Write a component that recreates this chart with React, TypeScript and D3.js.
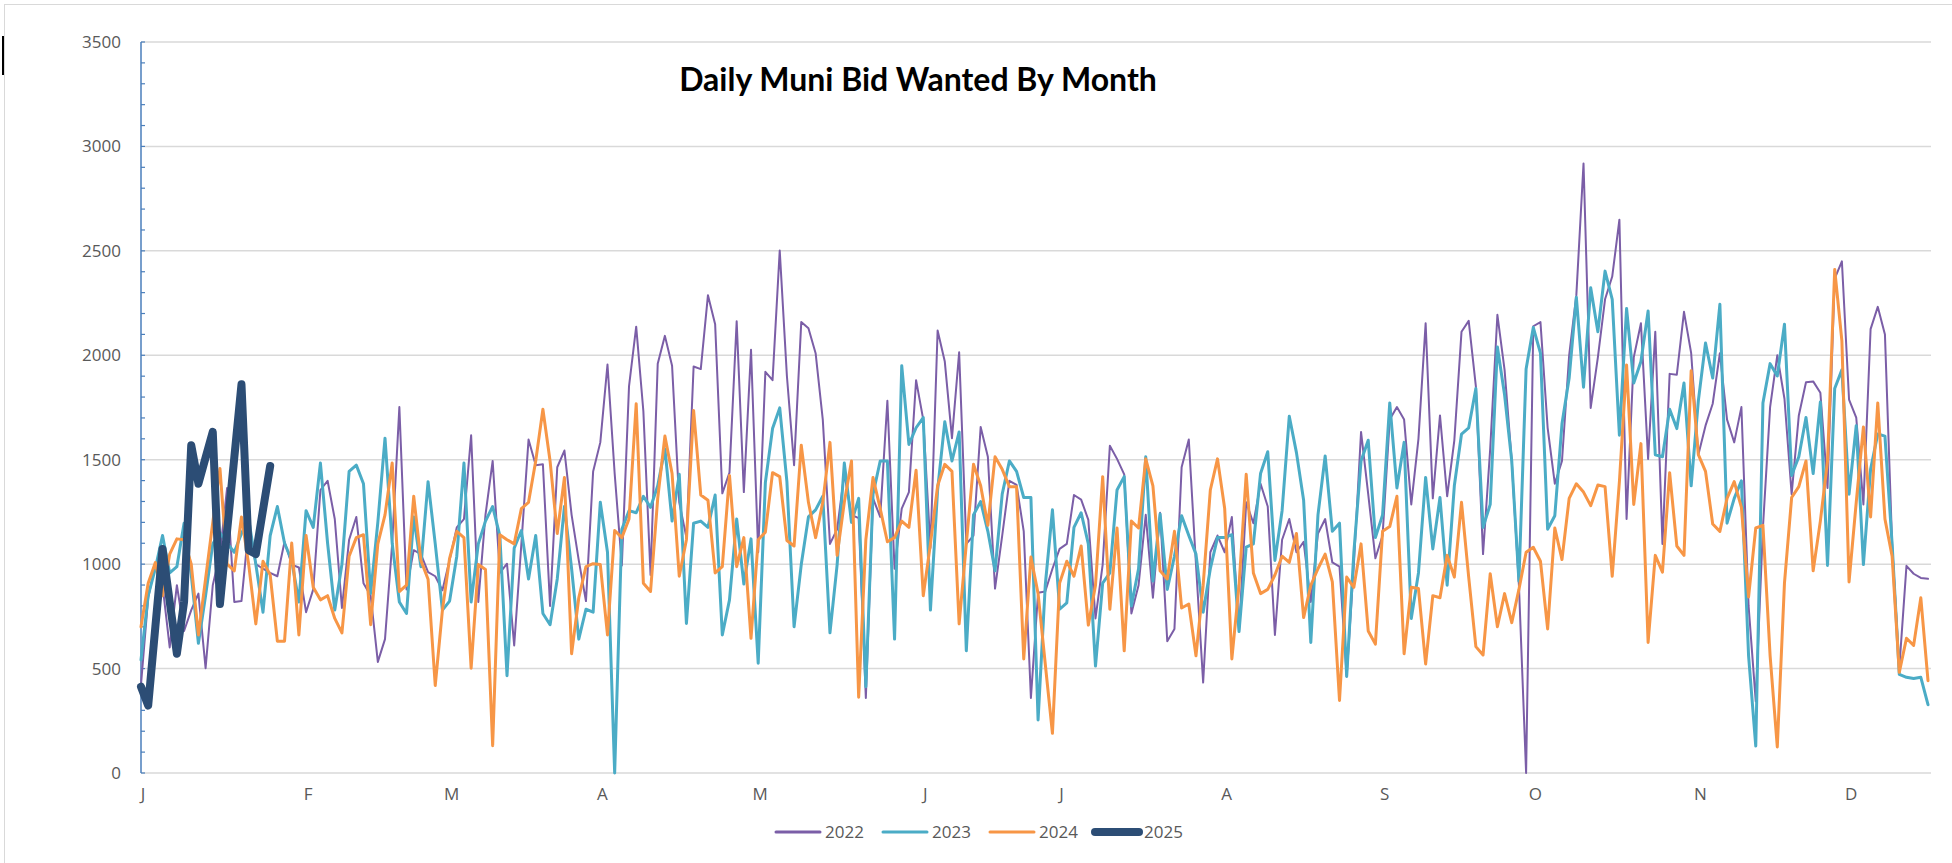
import React from 'react';
import * as d3 from 'd3';

// daily bid wanted counts, one value per trading day
const y2022 = [
  423, 839, 1000, 900, 601, 899, 680, 780, 859, 502,
  899, 1050, 1365, 819, 823, 1176, 1000, 978, 958, 942,
  1107, 998, 984, 770, 879, 1355, 1399, 1216, 790, 1117,
  1226, 909, 849, 532, 641, 1100, 1752, 879, 1067, 1048,
  962, 942, 875, 1020, 1176, 1216, 1617, 819, 1236, 1494,
  958, 1002, 611, 1097, 1597, 1474, 1478, 800, 1464, 1544,
  1236, 1018, 823, 1444, 1583, 1956, 1434, 994, 1851, 2137,
  1732, 948, 1960, 2093, 1950, 1296, 1127, 1946, 1934, 2288,
  2149, 1339, 1438, 2163, 1345, 2026, 1057, 1921, 1881, 2502,
  1901, 1474, 2159, 2129, 2010, 1692, 1097, 1167, 1434, 1236,
  1220, 359, 1315, 1226, 1782, 978, 1266, 1345, 1881, 1692,
  1077, 2119, 1970, 1603, 2014, 1097, 1137, 1657, 1514, 883,
  1137, 1399, 1379, 1157, 359, 863, 869, 978, 1073, 1097,
  1331, 1309, 1212, 740, 998, 1567, 1504, 1430, 764, 899,
  1236, 839, 1246, 631, 690, 1464, 1597, 998, 433, 1057,
  1137, 1057, 1226, 680, 1296, 1196, 1385, 1276, 661, 1117,
  1216, 1057, 1107, 819, 1147, 1216, 1008, 988, 462, 998,
  1633, 1335, 1028, 1137, 1692, 1752, 1692, 1286, 1600, 2153,
  1315, 1712, 1325, 1593, 2113, 2165, 1851, 1048, 1553, 2194,
  1930, 1494, 899, 0, 2139, 2159, 1653, 1385, 1494, 2000,
  2288, 2918, 1748, 1990, 2268, 2377, 2649, 1216, 1990, 2153,
  1504, 2113, 1097, 1911, 1907, 2208, 2010, 1524, 1663, 1768,
  2010, 1692, 1583, 1752, 800, 343, 1176, 1752, 2000, 1792,
  1335, 1712, 1871, 1875, 1821, 1365, 2367, 2450, 1788, 1702,
  1286, 2125, 2232, 2099, 1097, 502, 992, 954, 934, 930,
];

const y2023 = [
  542, 849, 980, 1137, 958, 988, 1196, 950, 621, 850,
  1097, 1150, 1100, 1057, 1147, 1216, 1000, 770, 1137, 1276,
  1100, 1018, 819, 1256, 1176, 1484, 1100, 780, 1000, 1444,
  1474, 1385, 859, 1200, 1603, 1100, 819, 764, 1226, 988,
  1395, 1097, 780, 823, 1038, 1484, 819, 1097, 1206, 1276,
  1137, 466, 1077, 1161, 929, 1137, 764, 710, 929, 1276,
  978, 641, 784, 770, 1296, 1057, 0, 1167, 1256, 1246,
  1325, 1272, 1375, 1553, 1206, 1430, 716, 1196, 1206, 1176,
  1331, 661, 829, 1216, 905, 1121, 526, 1391, 1649, 1748,
  1395, 700, 998, 1226, 1260, 1325, 671, 998, 1484, 1200,
  1315, 413, 1335, 1494, 1494, 641, 1950, 1573, 1653, 1702,
  780, 1355, 1682, 1494, 1633, 585, 1236, 1300, 1157, 968,
  1335, 1494, 1444, 1319, 1319, 254, 899, 1260, 784, 815,
  1176, 1246, 1097, 512, 909, 958, 1355, 1419, 800, 978,
  1514, 919, 1240, 879, 1038, 1232, 1137, 1048, 770, 978,
  1127, 1127, 1141, 677, 1081, 1097, 1434, 1538, 1018, 1256,
  1708, 1534, 1306, 625, 1236, 1518, 1157, 1196, 462, 1057,
  1494, 1593, 1127, 1236, 1772, 1365, 1583, 740, 958, 1415,
  1073, 1319, 899, 1375, 1623, 1653, 1841, 1176, 1286, 2040,
  1811, 1494, 919, 1934, 2133, 2010, 1167, 1232, 1672, 1891,
  2278, 1847, 2323, 2113, 2403, 2268, 1617, 2224, 1867, 1970,
  2212, 1524, 1514, 1742, 1649, 1867, 1375, 1782, 2059, 1891,
  2244, 1196, 1315, 1399, 561, 129, 1772, 1960, 1901, 2149,
  1425, 1514, 1702, 1434, 1776, 994, 1841, 1930, 1335, 1663,
  998, 1454, 1623, 1613, 1097, 472, 458, 452, 458, 327,
];

const y2024 = [
  700, 909, 1008, 849, 1048, 1121, 1117, 1000, 661, 930,
  1200, 1458, 1000, 968, 1226, 1000, 714, 1014, 948, 631,
  631, 1101, 661, 1137, 889, 829, 849, 740, 671, 1038,
  1127, 1141, 710, 1097, 1236, 1484, 869, 899, 1325, 1018,
  928, 419, 780, 1028, 1157, 1127, 502, 998, 974, 131,
  1141, 1117, 1097, 1266, 1296, 1494, 1742, 1494, 1147, 1415,
  571, 839, 988, 1002, 998, 661, 1161, 1127, 1216, 1768,
  909, 869, 1315, 1613, 1434, 942, 1117, 1736, 1331, 1306,
  958, 988, 1425, 988, 1127, 645, 1117, 1153, 1438, 1419,
  1113, 1087, 1569, 1296, 1127, 1296, 1583, 1042, 1296, 1494,
  363, 1117, 1415, 1266, 1107, 1127, 1206, 1176, 1450, 849,
  1097, 1375, 1478, 1444, 714, 1097, 1478, 1375, 1186, 1514,
  1454, 1371, 1371, 546, 1034, 859, 522, 190, 909, 1014,
  942, 1087, 708, 899, 1419, 784, 1173, 585, 1206, 1173,
  1504, 1375, 968, 929, 1157, 790, 809, 561, 899, 1355,
  1504, 1266, 546, 899, 1430, 958, 859, 879, 948, 1038,
  1008, 1147, 744, 899, 978, 1048, 915, 347, 938, 889,
  1097, 680, 617, 1157, 1180, 1325, 571, 889, 883, 522,
  849, 839, 1042, 938, 1296, 938, 605, 565, 954, 700,
  859, 720, 879, 1057, 1081, 1014, 690, 1173, 1022, 1315,
  1385, 1345, 1280, 1379, 1371, 942, 1395, 1954, 1286, 1577,
  625, 1042, 962, 1438, 1087, 1042, 1926, 1524, 1444, 1192,
  1157, 1315, 1395, 1272, 843, 1173, 1186, 561, 125, 909,
  1319, 1371, 1494, 968, 1206, 1494, 2411, 2069, 915, 1296,
  1657, 1226, 1772, 1216, 1038, 482, 645, 611, 839, 442,
];

// 2025 is year to date, January only
const y2025 = [413, 323, 700, 1073, 820, 571, 819, 1569, 1385, 1510, 1633, 809, 1160, 1510, 1861, 1067, 1048, 1260, 1470];

const monthLabels = ['J', 'F', 'M', 'A', 'M', 'J', 'J', 'A', 'S', 'O', 'N', 'D'];
const monthStartDay = [0, 23, 43, 64, 86, 109, 128, 151, 173, 194, 217, 238];

const seriesNames = ['2022', '2023', '2024', '2025'];
const seriesColors = ['#7b5ea7', '#4bacc6', '#f79646', '#2c4d75'];
const seriesWidths = [2, 3, 3, 8];

const App = () => {
  const width = 1952;
  const height = 863;
  const plot = { left: 141, right: 1928, top: 42, bottom: 773 };
  const gridRight = 1931;

  const x = d3.scaleLinear().domain([0, 249]).range([plot.left, plot.right]);
  const y = d3.scaleLinear().domain([0, 3500]).range([plot.bottom, plot.top]);

  const line = d3.line<number>()
    .x((d, i) => x(i))
    .y(d => y(d));

  const allSeries = [y2022, y2023, y2024, y2025];
  const majorTicks = y.ticks(7);
  const minorTicks = d3.range(0, 3501, 100);

  const axisFont = "'Open Sans', 'Liberation Sans', sans-serif";

  // legend layout (line start x for each entry)
  const legendX = [776, 883, 990, 1095];
  const legendY = 832;

  return (
    <svg width={width} height={height} style={{ position: 'absolute', left: 0, top: 0, display: 'block', background: '#fff' }}>
      <rect x={4.5} y={4.5} width={width} height={height} fill="#fff" stroke="#d9d9d9" strokeWidth={1} />
      <rect x={2} y={36} width={2} height={39} fill="#000" />

      {/* gridlines */}
      {majorTicks.map(t => (
        <line key={'g' + t} x1={plot.left} x2={gridRight} y1={y(t)} y2={y(t)} stroke="#d9d9d9" strokeWidth={1.5} />
      ))}

      {/* y axis with minor ticks */}
      <line x1={plot.left} x2={plot.left} y1={plot.top} y2={plot.bottom} stroke="#4a7ebb" strokeWidth={1.5} />
      {minorTicks.map(t => (
        <line key={'m' + t} x1={plot.left} x2={plot.left + 4} y1={y(t)} y2={y(t)} stroke="#4a7ebb" strokeWidth={1.2} />
      ))}
      {majorTicks.map(t => (
        <text key={'l' + t} x={121} y={y(t)} dy="0.35em" textAnchor="end" fontFamily={axisFont} fontSize={17} fill="#595959">
          {t}
        </text>
      ))}

      {/* month labels */}
      {monthLabels.map((m, i) => (
        <text key={'x' + i} x={x(monthStartDay[i]) + 2} y={794} dy="0.35em" textAnchor="middle" fontFamily={axisFont} fontSize={17} fill="#595959">
          {m}
        </text>
      ))}

      {/* series */}
      {allSeries.map((s, i) => (
        <path key={'s' + i} d={line(s) || ''} fill="none" stroke={seriesColors[i]} strokeWidth={seriesWidths[i]}
          strokeLinejoin="round" strokeLinecap="round" />
      ))}

      <text x={918} y={80} dy="0.35em" textAnchor="middle" fontFamily="Lato, 'Open Sans', sans-serif" fontWeight={700} fontSize={32} fill="#000">
        Daily Muni Bid Wanted By Month
      </text>

      {/* legend */}
      {seriesNames.map((n, i) => (
        <g key={'lg' + i}>
          <line x1={legendX[i]} x2={legendX[i] + 44} y1={legendY} y2={legendY} stroke={seriesColors[i]}
            strokeWidth={i === 3 ? 8 : 3} strokeLinecap="round" />
          <text x={legendX[i] + 49} y={legendY} dy="0.35em" fontFamily={axisFont} fontSize={17} fill="#595959">{n}</text>
        </g>
      ))}
    </svg>
  );
};

export default App;
